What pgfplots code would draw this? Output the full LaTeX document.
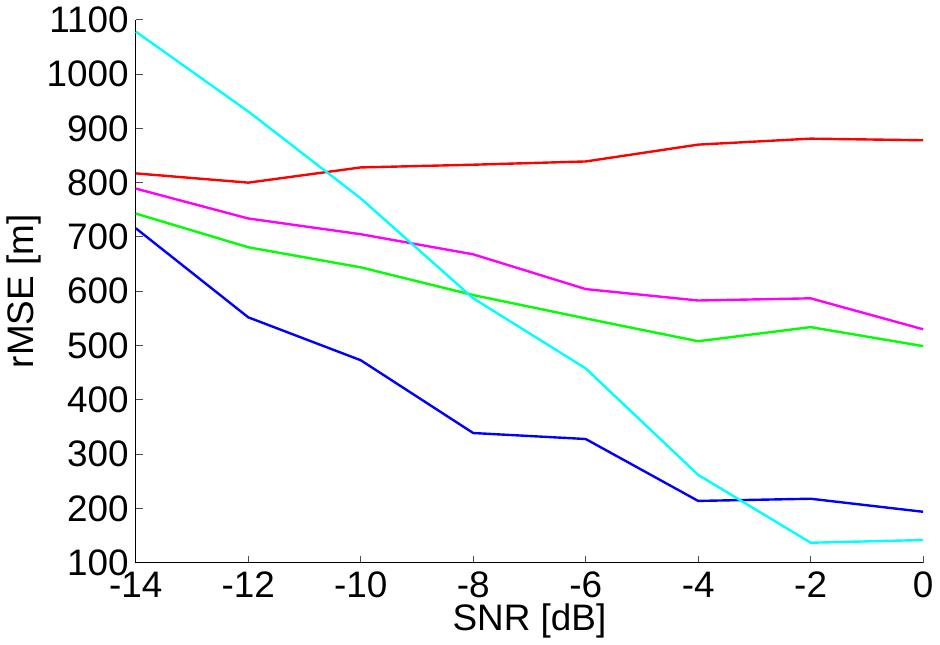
\documentclass[border=0pt]{standalone}
\usepackage{pgfplots}
\pgfplotsset{compat=1.18}
\usepackage{fontspec}
\setmainfont{Liberation Sans}
\definecolor{mred}{rgb}{1,0,0}
\definecolor{mmag}{rgb}{1,0,1}
\definecolor{mgreen}{rgb}{0,1,0}
\definecolor{mblue}{rgb}{0,0,1}
\definecolor{mcyan}{rgb}{0,1,1}
\begin{document}
\begin{tikzpicture}
\begin{axis}[
    width=395pt, height=272.5pt,
    scale only axis,
    xmin=-14, xmax=0,
    ymin=100, ymax=1100,
    xtick={-14,-12,...,0},
    ytick={100,200,...,1100},
    axis x line*=bottom,
    axis y line*=left,
    axis line style={black, line width=0.6pt, -},
    tick align=inside,
    major tick length=3.5pt,
    tick style={black!70, line width=0.5pt},
    /pgf/number format/assume math mode=true,
    /pgf/number format/1000 sep={},
    ticklabel style={font=\fontsize{18.5}{21}\selectfont},
    label style={font=\fontsize{18.5}{21}\selectfont},
    xticklabel style={yshift=-1pt},
    xlabel={SNR [dB]},
    ylabel={rMSE [m]},
    xlabel style={yshift=4pt},
    ylabel style={yshift=-4pt},
    every axis plot/.append style={line width=1.2pt},
    clip=false,
]
\addplot[mred] coordinates {(-14,817) (-12,800) (-10,828) (-8,833) (-6,839) (-4,870) (-2,881) (0,878)};
\addplot[mmag] coordinates {(-14,789) (-12,734) (-10,705) (-8,668) (-6,604) (-4,583) (-2,587) (0,530)};
\addplot[mgreen] coordinates {(-14,743) (-12,681) (-10,644) (-8,593) (-6,550) (-4,508) (-2,534) (0,499)};
\addplot[mblue] coordinates {(-14,716) (-12,552) (-10,473) (-8,339) (-6,328) (-4,214) (-2,218) (0,194)};
\addplot[mcyan] coordinates {(-14,1078) (-12,931) (-10,771) (-8,587) (-6,458) (-4,262) (-2,137) (0,142)};
\end{axis}
\end{tikzpicture}
\end{document}
